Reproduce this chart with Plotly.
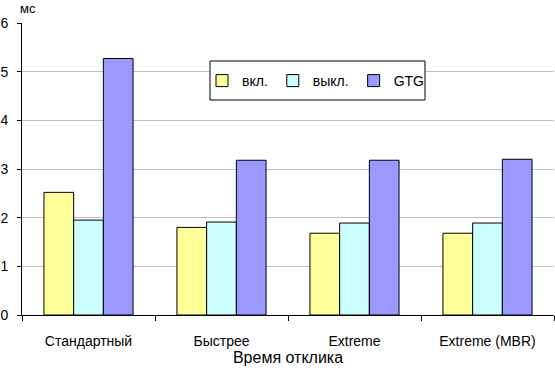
import plotly.graph_objects as go

categories = ["Стандартный", "Быстрее", "Extreme", "Extreme (MBR)"]
series_names = ["вкл.", "выкл.", "GTG"]
vals_on = [2.52, 1.80, 1.68, 1.68]
vals_off = [1.95, 1.91, 1.89, 1.89]
vals_gtg = [5.27, 3.18, 3.18, 3.20]
colors = ["#FFFF99", "#CCFFFF", "#9999FF"]
y_ticks = [0, 1, 2, 3, 4, 5, 6]
y_unit = "мс"
x_title = "Время отклика"

FONT = "Liberation Sans, Arial, sans-serif"

fig = go.Figure()
for name, vals, col in zip(series_names, [vals_on, vals_off, vals_gtg], colors):
    fig.add_trace(go.Bar(
        x=categories, y=vals, name=name,
        marker=dict(color=col, line=dict(color="black", width=1)),
    ))

L, R, T, B = 22, 1, 23, 59
W, H = 555, 374
pw = W - L - R
ph = H - T - B

def px_x(x):
    return (x - L) / pw

def px_y(y):
    return (H - B - y) / ph

fig.update_layout(
    width=W, height=H,
    margin=dict(l=L, r=R, t=T, b=B, autoexpand=False),
    paper_bgcolor="white", plot_bgcolor="white",
    font=dict(family=FONT, size=14, color="black"),
    barmode="group", bargap=0.33, bargroupgap=0.0,
    showlegend=True,
    legend=dict(
        orientation="h",
        x=px_x(202), y=px_y(65), xanchor="left", yanchor="top",
        bgcolor="rgba(0,0,0,0)", borderwidth=0,
        font=dict(family=FONT, size=14),
        itemwidth=30,
    ),
    xaxis=dict(
        type="category",
        showline=True, linecolor="black", linewidth=1,
        ticks="outside", tickson="boundaries", ticklen=5, tickcolor="black",
        showgrid=False,
        tickfont=dict(family=FONT, size=14),
        ticklabelstandoff=13,
        title=dict(text=x_title, font=dict(family=FONT, size=16), standoff=0),
        automargin=False,
    ),
    yaxis=dict(
        range=[0, 6], tickvals=y_ticks,
        showline=True, linecolor="black", linewidth=1,
        ticks="outside", ticklen=4, tickcolor="black",
        showgrid=True, gridcolor="#C0C0C0", gridwidth=1,
        zeroline=False,
        tickfont=dict(family=FONT, size=14),
        ticklabelstandoff=6,
        automargin=False,
    ),
    shapes=[dict(
        type="rect", xref="paper", yref="paper",
        x0=px_x(210), x1=px_x(425), y0=px_y(100), y1=px_y(61),
        line=dict(color="black", width=1), fillcolor="white", layer="above",
    )],
    annotations=[dict(
        text=y_unit, xref="paper", yref="paper",
        x=px_x(19), y=px_y(0), xanchor="left", yanchor="top",
        borderpad=0, showarrow=False, font=dict(family=FONT, size=13),
    )],
)

fig.write_html(
    "out.html",
    config={"displayModeBar": False},
    post_script="document.body.style.margin='0';document.body.style.padding='0';",
)
